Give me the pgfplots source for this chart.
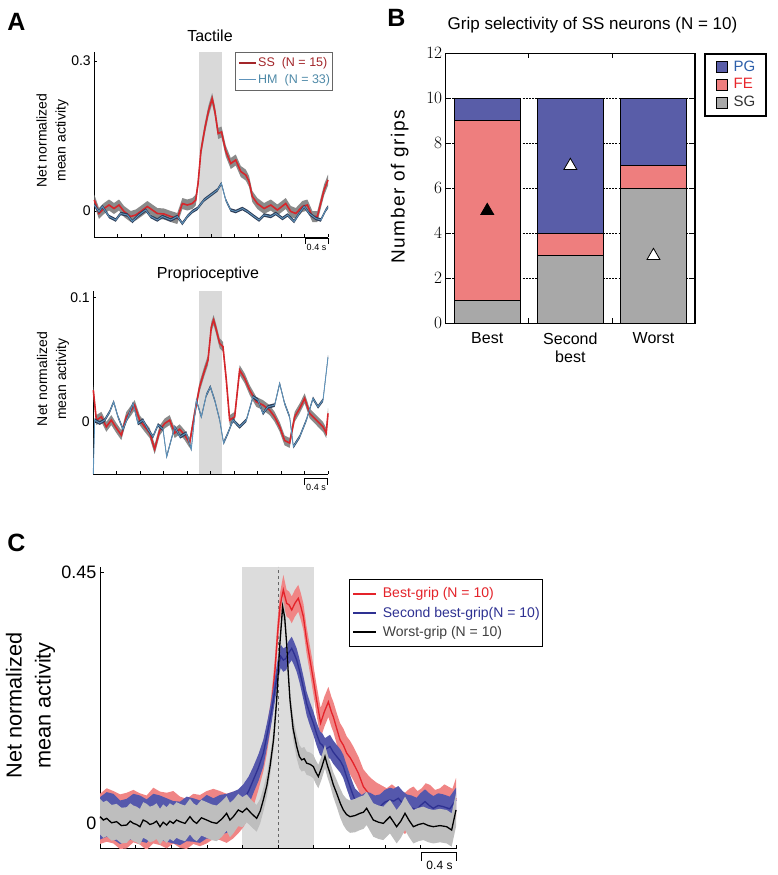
\documentclass[border=0pt]{standalone}
\usepackage{fontspec}
\setmainfont{Liberation Sans}
\usepackage{pgfplots}
\pgfplotsset{compat=1.18}
\usepackage{pgfplotstable}
\usepgfplotslibrary{fillbetween}

\definecolor{ssred}{HTML}{D7262B}
\definecolor{ssdark}{HTML}{A3262A}
\definecolor{hmblue}{HTML}{5E93BB}
\definecolor{hmtext}{HTML}{4F8AA8}
\definecolor{hmdark}{HTML}{2E3D57}
\definecolor{bandgray}{HTML}{8A8A8A}
\definecolor{evgray}{HTML}{D9D9D9}
\definecolor{pgcol}{HTML}{595DA8}
\definecolor{fecol}{HTML}{EE7E7E}
\definecolor{sgcol}{HTML}{A8A8A8}
\definecolor{pgtext}{HTML}{2C5FAA}
\definecolor{fetext}{HTML}{E8262B}
\definecolor{cred}{HTML}{E4232A}
\definecolor{credband}{HTML}{F08585}
\definecolor{cblue}{HTML}{2E3192}
\definecolor{cblueband}{HTML}{5558AC}
\definecolor{cgrayband}{HTML}{BEBEBE}
\definecolor{cevgray}{HTML}{DCDCDC}

% ---------- Panel A, tactile ----------
\pgfplotstableread{
t m e
-2.0 0.022 0.011
-1.920 -0.005 0.011
-1.834 0.005 0.011
-1.748 0.012 0.011
-1.663 0.005 0.011
-1.577 0.012 0.011
-1.491 -0.001 0.011
-1.377 -0.011 0.011
-1.291 -0.008 0.011
-1.206 -0.001 0.011
-1.092 0.009 0.011
-1.007 0.002 0.011
-0.921 -0.005 0.011
-0.807 -0.006 0.011
-0.692 -0.011 0.011
-0.579 -0.015 0.011
-0.493 0.015 0.011
-0.408 0.012 0.011
-0.322 0.015 0.011
-0.264 0.022 0.011
-0.224 0.055 0.011
-0.175 0.120 0.011
-0.108 0.165 0.011
-0.046 0.200 0.011
0.017 0.225 0.011
0.063 0.200 0.011
0.120 0.155 0.011
0.177 0.158 0.011
0.250 0.120 0.011
0.336 0.095 0.011
0.421 0.102 0.011
0.507 0.079 0.011
0.592 0.072 0.011
0.649 0.059 0.011
0.705 0.029 0.011
0.791 0.015 0.011
0.906 0.005 0.011
1.021 0.012 0.011
1.134 0.002 0.011
1.277 0.015 0.011
1.363 -0.001 0.011
1.449 -0.005 0.011
1.562 0.009 0.011
1.647 0.012 0.011
1.733 -0.011 0.011
1.818 -0.011 0.011
1.933 0.042 0.011
2.0 0.062 0.011
}\tacSS
\pgfplotstableread{
t m e
-2.0 0.012 0.0035
-1.920 -0.001 0.0035
-1.862 0.009 0.0035
-1.748 -0.011 0.0035
-1.634 -0.018 0.0035
-1.549 -0.005 0.0035
-1.434 -0.008 0.0035
-1.349 -0.021 0.0035
-1.235 -0.008 0.0035
-1.120 0.002 0.0035
-1.035 -0.011 0.0035
-0.921 -0.018 0.0035
-0.835 -0.011 0.0035
-0.693 -0.018 0.0035
-0.578 -0.011 0.0035
-0.493 -0.025 0.0035
-0.407 -0.011 0.0035
-0.321 -0.001 0.0035
-0.236 0.005 0.0035
-0.122 0.022 0.0035
-0.007 0.032 0.0035
0.107 0.042 0.0035
0.175 0.055 0.0035
0.250 0.022 0.0035
0.335 0.002 0.0035
0.421 -0.001 0.0035
0.535 0.005 0.0035
0.621 -0.001 0.0035
0.735 -0.011 0.0035
0.820 -0.018 0.0035
0.906 -0.008 0.0035
1.020 -0.011 0.0035
1.107 -0.005 0.0035
1.221 -0.015 0.0035
1.307 -0.008 0.0035
1.420 -0.021 0.0035
1.506 -0.005 0.0035
1.592 0.009 0.0035
1.678 -0.005 0.0035
1.792 -0.015 0.0035
1.878 -0.018 0.0035
1.963 0.002 0.0035
2.0 0.008 0.0035
}\tacHM

% ---------- Panel A, proprioceptive ----------
\pgfplotstableread{
t m e
-2.0 0.0256 0.004
-1.948 0.0014 0.004
-1.863 0.004 0.004
-1.778 -0.004 0.004
-1.693 0.0014 0.004
-1.607 -0.005 0.004
-1.522 -0.0107 0.004
-1.437 0.004 0.004
-1.352 0.0094 0.004
-1.295 0.0135 0.004
-1.210 0.0014 0.004
-1.124 -0.004 0.004
-1.039 -0.009 0.004
-0.954 -0.022 0.004
-0.869 -0.007 0.004
-0.784 -0.0013 0.004
-0.698 0.0014 0.004
-0.613 -0.009 0.004
-0.528 -0.006 0.004
-0.443 -0.0107 0.004
-0.358 -0.017 0.004
-0.273 0.0068 0.004
-0.188 0.0282 0.004
-0.102 0.0417 0.004
-0.045 0.0498 0.004
0.012 0.0766 0.004
0.051 0.082 0.004
0.097 0.074 0.004
0.154 0.0632 0.004
0.210 0.0605 0.004
0.267 0.0336 0.004
0.324 0.0014 0.004
0.409 0.004 0.004
0.494 0.0417 0.004
0.580 0.035 0.004
0.665 0.0256 0.004
0.778 0.0161 0.004
0.892 0.0135 0.004
1.006 0.0094 0.004
1.091 0.004 0.004
1.176 -0.004 0.004
1.261 -0.015 0.004
1.346 -0.017 0.004
1.432 0.004 0.004
1.517 0.0108 0.004
1.602 0.0189 0.004
1.687 0.0068 0.004
1.801 0.0014 0.004
1.915 -0.004 0.004
1.970 -0.009 0.004
2.0 0.0068 0.004
}\proSS
\pgfplotstableread{
t m e
-2.0 -0.042 0.0015
-1.977 0.0014 0.0015
-1.891 -0.001 0.0015
-1.806 0.0014 0.0015
-1.721 0.0081 0.0015
-1.653 0.0161 0.0015
-1.579 0.004 0.0015
-1.494 -0.006 0.0015
-1.409 0.004 0.0015
-1.323 0.0148 0.0015
-1.238 -0.0013 0.0015
-1.153 0.0014 0.0015
-1.068 -0.006 0.0015
-0.983 -0.012 0.0015
-0.897 -0.0025 0.0015
-0.812 -0.006 0.0015
-0.750 -0.028 0.0015
-0.613 -0.004 0.0015
-0.520 -0.012 0.0015
-0.415 -0.009 0.0015
-0.330 -0.022 0.0015
-0.244 0.0175 0.0015
-0.159 0.004 0.0015
-0.074 0.0215 0.0015
-0.005 0.0282 0.0015
0.069 0.0175 0.0015
0.154 0.0014 0.0015
0.220 -0.017 0.0015
0.295 -0.009 0.0015
0.381 0.0014 0.0015
0.494 -0.004 0.0015
0.608 0.0014 0.0015
0.722 0.0202 0.0015
0.807 0.0175 0.0015
0.892 0.0068 0.0015
0.977 0.0121 0.0015
1.091 0.0135 0.0015
1.176 0.0309 0.0015
1.261 0.0148 0.0015
1.346 0.004 0.0015
1.410 -0.020 0.0015
1.517 -0.012 0.0015
1.631 0.0014 0.0015
1.744 0.0189 0.0015
1.830 0.0121 0.0015
1.915 0.0175 0.0015
2.0 0.052 0.0015
}\proHM

% ---------- Panel C ----------
\pgfplotstableread{
t m e
-2.0 0.008 0.045
-1.925 0.015 0.048
-1.850 0.011 0.047
-1.775 0.003 0.049
-1.700 0.005 0.050
-1.625 0.013 0.047
-1.551 0.008 0.046
-1.476 0.001 0.049
-1.401 0.014 0.050
-1.326 0.009 0.048
-1.251 0.005 0.050
-1.176 0.011 0.047
-1.101 0.002 0.046
-1.026 -0.001 0.045
-0.951 0.008 0.045
-0.876 0.005 0.046
-0.801 0.011 0.047
-0.726 0.017 0.045
-0.652 0.014 0.044
-0.577 0.009 0.044
-0.502 0.015 0.042
-0.446 0.020 0.038
-0.390 0.027 0.034
-0.330 0.040 0.031
-0.277 0.060 0.030
-0.220 0.088 0.028
-0.165 0.120 0.027
-0.125 0.150 0.025
-0.090 0.186 0.024
-0.060 0.230 0.024
-0.034 0.275 0.024
-0.005 0.340 0.024
0.022 0.389 0.024
0.060 0.419 0.027
0.097 0.395 0.024
0.125 0.392 0.024
0.154 0.383 0.024
0.190 0.395 0.024
0.228 0.404 0.024
0.255 0.390 0.024
0.285 0.371 0.024
0.320 0.330 0.024
0.360 0.293 0.024
0.400 0.255 0.026
0.434 0.221 0.027
0.479 0.180 0.027
0.520 0.200 0.027
0.566 0.218 0.027
0.600 0.200 0.027
0.622 0.191 0.027
0.660 0.170 0.028
0.697 0.150 0.030
0.735 0.140 0.030
0.772 0.126 0.030
0.810 0.118 0.030
0.846 0.108 0.030
0.903 0.090 0.030
0.959 0.066 0.031
1.015 0.054 0.032
1.060 0.046 0.033
1.109 0.039 0.034
1.165 0.033 0.035
1.221 0.027 0.036
1.280 0.034 0.036
1.333 0.027 0.036
1.380 0.022 0.036
1.427 0.018 0.037
1.475 0.026 0.036
1.521 0.030 0.036
1.570 0.022 0.036
1.614 0.027 0.036
1.660 0.036 0.036
1.708 0.033 0.036
1.765 0.024 0.036
1.820 0.027 0.036
1.870 0.034 0.036
1.914 0.030 0.036
1.960 0.026 0.036
2.0 0.045 0.036
}\cBest
\pgfplotstableread{
t m e
-2.0 0.009 0.038
-1.925 0.016 0.040
-1.850 0.012 0.041
-1.775 0.002 0.039
-1.700 0.006 0.038
-1.625 0.013 0.040
-1.551 0.009 0.041
-1.476 0.004 0.039
-1.401 0.015 0.038
-1.326 0.010 0.040
-1.251 0.006 0.039
-1.176 0.002 0.038
-1.101 0.000 0.039
-1.026 0.008 0.040
-0.951 0.006 0.039
-0.876 0.003 0.038
-0.801 0.012 0.039
-0.726 0.008 0.037
-0.652 0.015 0.036
-0.577 0.018 0.035
-0.502 0.024 0.033
-0.446 0.030 0.031
-0.390 0.042 0.028
-0.330 0.058 0.026
-0.277 0.078 0.024
-0.220 0.100 0.024
-0.165 0.126 0.024
-0.115 0.165 0.022
-0.071 0.203 0.021
-0.030 0.245 0.021
0.004 0.281 0.021
0.030 0.300 0.021
0.060 0.293 0.021
0.090 0.296 0.021
0.116 0.305 0.021
0.154 0.314 0.021
0.180 0.305 0.021
0.210 0.293 0.021
0.240 0.275 0.021
0.266 0.257 0.021
0.295 0.236 0.021
0.322 0.215 0.021
0.360 0.196 0.021
0.397 0.180 0.021
0.435 0.160 0.021
0.472 0.144 0.021
0.500 0.140 0.021
0.528 0.132 0.021
0.584 0.138 0.021
0.620 0.128 0.021
0.659 0.120 0.021
0.700 0.112 0.021
0.734 0.102 0.021
0.770 0.084 0.021
0.809 0.066 0.021
0.840 0.052 0.021
0.865 0.042 0.021
0.900 0.036 0.021
0.940 0.030 0.021
0.990 0.034 0.022
1.034 0.033 0.022
1.090 0.028 0.022
1.146 0.030 0.022
1.200 0.038 0.022
1.258 0.042 0.022
1.300 0.040 0.022
1.352 0.045 0.022
1.400 0.036 0.022
1.446 0.030 0.022
1.500 0.028 0.022
1.558 0.024 0.022
1.600 0.032 0.022
1.652 0.039 0.022
1.700 0.032 0.022
1.745 0.027 0.022
1.800 0.032 0.022
1.858 0.030 0.022
1.930 0.026 0.022
2.0 0.042 0.022
}\cSecond
\pgfplotstableread{
t m e
-2.0 0.012 0.032
-1.962 0.006 0.032
-1.925 0.009 0.032
-1.870 0.001 0.032
-1.813 0.003 0.032
-1.760 -0.004 0.032
-1.700 -0.003 0.032
-1.660 0.004 0.032
-1.625 0.000 0.032
-1.590 -0.002 0.032
-1.551 -0.006 0.032
-1.515 0.006 0.032
-1.476 0.003 0.032
-1.440 -0.002 0.032
-1.401 0.000 0.032
-1.365 0.004 0.032
-1.326 -0.006 0.032
-1.290 0.002 0.032
-1.251 -0.003 0.032
-1.215 0.004 0.032
-1.176 0.000 0.032
-1.140 0.006 0.032
-1.101 0.003 0.032
-1.045 0.000 0.032
-0.989 0.012 0.032
-0.950 0.004 0.032
-0.914 0.000 0.032
-0.860 0.010 0.032
-0.801 0.006 0.032
-0.745 0.002 0.032
-0.689 0.000 0.032
-0.630 0.008 0.032
-0.577 0.018 0.031
-0.540 0.006 0.031
-0.502 0.012 0.030
-0.446 0.024 0.029
-0.400 0.020 0.027
-0.352 0.027 0.025
-0.300 0.018 0.024
-0.240 0.009 0.024
-0.200 0.022 0.022
-0.165 0.042 0.021
-0.125 0.068 0.020
-0.090 0.102 0.018
-0.050 0.150 0.018
-0.015 0.221 0.018
0.020 0.320 0.018
0.052 0.389 0.018
0.075 0.370 0.018
0.097 0.323 0.018
0.115 0.270 0.018
0.135 0.221 0.018
0.170 0.170 0.020
0.210 0.138 0.021
0.240 0.120 0.021
0.266 0.114 0.021
0.295 0.116 0.021
0.322 0.108 0.021
0.360 0.106 0.021
0.397 0.102 0.021
0.425 0.092 0.021
0.453 0.084 0.021
0.490 0.100 0.021
0.528 0.120 0.021
0.555 0.104 0.021
0.584 0.090 0.021
0.620 0.070 0.022
0.659 0.054 0.024
0.700 0.036 0.026
0.734 0.024 0.027
0.770 0.016 0.028
0.809 0.012 0.029
0.865 0.014 0.030
0.921 0.018 0.030
0.960 0.020 0.030
0.996 0.027 0.030
1.035 0.016 0.030
1.071 0.006 0.030
1.130 0.002 0.030
1.184 0.000 0.030
1.220 0.006 0.030
1.258 0.012 0.030
1.300 0.002 0.030
1.333 -0.006 0.030
1.380 0.004 0.030
1.427 0.018 0.030
1.470 0.006 0.030
1.521 -0.006 0.030
1.580 -0.002 0.030
1.633 0.000 0.030
1.690 -0.004 0.030
1.745 -0.006 0.030
1.820 -0.004 0.030
1.895 -0.006 0.030
1.951 -0.012 0.030
2.0 0.024 0.030
}\cWorst

\newcommand{\band}[3]{%
  \addplot[name path=#3u, draw=none, forget plot] table[x=t, y expr=\thisrow{m}+\thisrow{e}] {#1};
  \addplot[name path=#3l, draw=none, forget plot] table[x=t, y expr=\thisrow{m}-\thisrow{e}] {#1};
  \addplot[fill=#2, draw=none, forget plot] fill between[of=#3u and #3l];
}

\pgfplotsset{
  tsaxis/.style={
    set layers,
    scale only axis, xmin=-2, xmax=2,
    axis x line*=bottom, axis y line*=left,
    axis line style={line width=0.8pt, -},
    tick align=inside, major tick length=3pt,
    tick style={black, line width=0.6pt},
    xtick={-1.6,-1.2,-0.8,-0.4,0,0.4,0.8,1.2,1.6,2.0},
    xticklabels={},
    legend cell align=left,
  },
}

\begin{document}
\begin{tikzpicture}
\path (0pt,0pt) rectangle (777pt,-875pt);

% ======== Panel A top: Tactile ========
\begin{axis}[tsaxis,
  at={(94.3pt,-237pt)}, anchor=south west,
  width=233.7pt, height=185pt,
  ymin=-0.052, ymax=0.318,
  ytick={0,0.3}, yticklabels={0,0.3},
  yticklabel style={font=\fontsize{14pt}{14pt}\selectfont},
  legend style={at={(1.021,1.0)}, anchor=north east, draw=black!60, line width=0.6pt,
    fill=white, font=\fontsize{12.5pt}{12.5pt}\selectfont, inner xsep=2.5pt, inner ysep=4pt,
    row sep=3.7pt, column sep=1.5pt, nodes={inner sep=0pt, text height=10pt, text depth=3pt}},
  legend image code/.code={\draw[#1] (0pt,0pt) -- (17pt,0pt);},
]
\addplot[fill=evgray, draw=none, forget plot, on layer=axis background] coordinates {(-0.2,-0.052) (-0.2,0.318) (0.19,0.318) (0.19,-0.052)};
\band{\tacSS}{bandgray}{ta}
\addplot[ssred, line width=1.6pt, forget plot, on layer=pre main] table[x=t, y=m] {\tacSS};
\band{\tacHM}{hmdark}{tb}
\addplot[hmblue, line width=0.9pt, forget plot, on layer=pre main] table[x=t, y=m] {\tacHM};
\addlegendimage{ssdark, line width=1.6pt}
\addlegendentry{\textcolor{ssdark}{SS\ \ (N = 15)}}
\addlegendimage{hmblue, line width=1.2pt}
\addlegendentry{\textcolor{hmtext}{HM\ \ (N = 33)}}
\end{axis}

% ======== Panel A bottom: Proprioceptive ========
\begin{axis}[tsaxis,
  at={(93.3pt,-474pt)}, anchor=south west,
  width=234.7pt, height=183.3pt,
  ymin=-0.042, ymax=0.1056,
  ytick={0,0.1}, yticklabels={0,0.1},
  yticklabel style={font=\fontsize{14pt}{14pt}\selectfont},
]
\addplot[fill=evgray, draw=none, forget plot, on layer=axis background] coordinates {(-0.2,-0.042) (-0.2,0.1056) (0.19,0.1056) (0.19,-0.042)};
\band{\proSS}{bandgray}{pa}
\addplot[ssred, line width=1.6pt, forget plot, on layer=pre main] table[x=t, y=m] {\proSS};
\band{\proHM}{hmdark}{pb}
\addplot[hmblue, line width=0.9pt, forget plot, on layer=pre main] table[x=t, y=m] {\proHM};
\end{axis}

% ======== Panel B: stacked bars ========
\begin{axis}[
  at={(445.7pt,-323.3pt)}, anchor=south west, scale only axis,
  width=249.3pt, height=270pt,
  xmin=0.5, xmax=3.5, ymin=0, ymax=12,
  ybar stacked, bar width=0.8,
  ytick={0,2,4,6,8,10,12},
  xtick={1.5,2.5}, xticklabels={},
  extra x ticks={1,2,3},
  extra x tick labels={Best,{Second\\best},Worst},
  extra x tick style={major tick length=0pt},
  xticklabel style={align=center, font=\fontsize{16pt}{18pt}\selectfont, yshift=-6pt},
  yticklabel style={font=\fontsize{16pt}{16pt}\selectfont},
  tick align=inside, major tick length=5pt,
  tick style={black, line width=0.8pt},
  ymajorgrids, grid style={black, line width=0.5pt, dash pattern=on 2pt off 1.2pt},
  axis line style={line width=1.3pt},
]
\addplot[fill=sgcol, draw=black, line width=1pt] coordinates {(1,1) (2,3) (3,6)};
\addplot[fill=fecol, draw=black, line width=1pt] coordinates {(1,8) (2,1) (3,1)};
\addplot[fill=pgcol, draw=black, line width=1pt] coordinates {(1,1) (2,6) (3,3)};
\end{axis}
\begin{axis}[
  at={(445.7pt,-323.3pt)}, anchor=south west, scale only axis,
  width=249.3pt, height=270pt,
  xmin=0.5, xmax=3.5, ymin=0, ymax=12, hide axis,
  legend style={at={(1.036,1.002)}, anchor=north west, draw=black, line width=1.8pt,
    fill=white, font=\fontsize{15pt}{15pt}\selectfont, inner xsep=11pt, inner ysep=7pt,
    row sep=4.8pt, column sep=6pt, nodes={inner sep=0pt, text height=10.5pt, text depth=2.5pt}},
  legend cell align=left,
]
\addplot[only marks, mark=triangle*, mark size=7.5pt, mark options={fill=black, draw=black, line width=0.8pt}, forget plot] coordinates {(1,5)};
\addplot[only marks, mark=triangle*, mark size=7.5pt, mark options={fill=white, draw=black, line width=0.8pt}, forget plot] coordinates {(2,7) (3,3)};
\addlegendimage{legend image code/.code={\draw[fill=pgcol, draw=black, line width=0.8pt] (0pt,-5.5pt) rectangle (11pt,5.5pt);}}
\addlegendentry{\textcolor{pgtext}{PG}}
\addlegendimage{legend image code/.code={\draw[fill=fecol, draw=black, line width=0.8pt] (0pt,-5.5pt) rectangle (11pt,5.5pt);}}
\addlegendentry{\textcolor{fetext}{FE}}
\addlegendimage{legend image code/.code={\draw[fill=sgcol, draw=black, line width=0.8pt] (0pt,-5.5pt) rectangle (11pt,5.5pt);}}
\addlegendentry{\textcolor{black!80}{SG}}
\end{axis}

% ======== Panel C ========
\begin{axis}[tsaxis,
  at={(100pt,-848.7pt)}, anchor=south west,
  width=356pt, height=282pt,
  ymin=-0.0455, ymax=0.4606,
  major tick length=4pt,
  ytick={0,0.45}, yticklabels={0,0.45},
  yticklabel style={font=\fontsize{18pt}{18pt}\selectfont},
  legend style={at={(0.700,0.955)}, anchor=north west, draw=black, line width=0.8pt,
    fill=white, font=\fontsize{14pt}{14pt}\selectfont, inner xsep=2.5pt, inner ysep=7pt,
    row sep=5.3pt, column sep=6pt, nodes={inner sep=0pt, text height=11pt, text depth=3pt}},
  legend image code/.code={\draw[#1] (0pt,0pt) -- (23pt,0pt);},
]
\addplot[fill=cevgray, draw=none, forget plot, on layer=axis background] coordinates {(-0.4,-0.0455) (-0.4,0.4606) (0.4,0.4606) (0.4,-0.0455)};
\addplot[black!60, dashed, line width=0.8pt, forget plot, on layer=axis background] coordinates {(0,-0.0455) (0,0.4606)};
\band{\cBest}{credband}{ca}
\addplot[cred, line width=1.3pt, forget plot, on layer=pre main] table[x=t, y=m] {\cBest};
\band{\cSecond}{cblueband}{cb}
\addplot[cblue, line width=1.3pt, forget plot, on layer=pre main] table[x=t, y=m] {\cSecond};
\band{\cWorst}{cgrayband}{cc}
\addplot[black, line width=1.3pt, forget plot, on layer=pre main] table[x=t, y=m] {\cWorst};
\addlegendimage{cred, line width=1.8pt}
\addlegendentry{\textcolor{cred}{Best-grip (N = 10)}}
\addlegendimage{cblue, line width=1.8pt}
\addlegendentry{\textcolor{cblue}{Second best-grip(N = 10)}}
\addlegendimage{black, line width=1.8pt}
\addlegendentry{\textcolor{black!75}{Worst-grip (N = 10)}}
\end{axis}

% ======== Texts ========
\node[font=\fontsize{25pt}{25pt}\selectfont\bfseries] at (16.3pt,-21.7pt) {A};
\node[font=\fontsize{25pt}{25pt}\selectfont\bfseries] at (396.3pt,-17.5pt) {B};
\node[font=\fontsize{25pt}{25pt}\selectfont\bfseries] at (16.3pt,-542.5pt) {C};
\node[font=\fontsize{16pt}{16pt}\selectfont] at (210pt,-36pt) {Tactile};
\node[font=\fontsize{16pt}{16pt}\selectfont] at (208pt,-274.5pt) {Proprioceptive};
\node[font=\fontsize{14pt}{19pt}\selectfont, rotate=90, align=center] at (52.5pt,-140.8pt) {Net normalized\\mean activity};
\node[font=\fontsize{14pt}{19pt}\selectfont, rotate=90, align=center] at (53pt,-379pt) {Net normalized\\mean activity};
\node[font=\fontsize{17pt}{17pt}\selectfont] at (592.5pt,-25pt) {Grip selectivity of SS neurons (N = 10)};
\node[font=\fontsize{19pt}{19pt}\selectfont\addfontfeature{LetterSpace=8}, rotate=90] at (399.7pt,-186.7pt) {Number of grips};
\node[font=\fontsize{21.7pt}{29pt}\selectfont, rotate=90, align=center] at (30.5pt,-705.5pt) {Net normalized\\mean activity};

% scale bars
\draw[line width=0.7pt] (305pt,-244pt) -- (305pt,-238.3pt) -- (328pt,-238.3pt) -- (328pt,-244pt);
\node[font=\fontsize{9pt}{9pt}\selectfont] at (316.5pt,-247.5pt) {0.4 s};
\draw[line width=0.7pt] (304pt,-485pt) -- (304pt,-478.7pt) -- (327.7pt,-478.7pt) -- (327.7pt,-485pt);
\node[font=\fontsize{9pt}{9pt}\selectfont] at (316pt,-487pt) {0.4 s};
\draw[line width=0.8pt] (421pt,-861pt) -- (421pt,-852.7pt) -- (456pt,-852.7pt) -- (456pt,-861pt);
\node[font=\fontsize{12pt}{12pt}\selectfont] at (439.5pt,-865pt) {0.4 s};

\pgfresetboundingbox
\useasboundingbox (0pt,0pt) rectangle (777pt,-875pt);
\end{tikzpicture}
\end{document}
